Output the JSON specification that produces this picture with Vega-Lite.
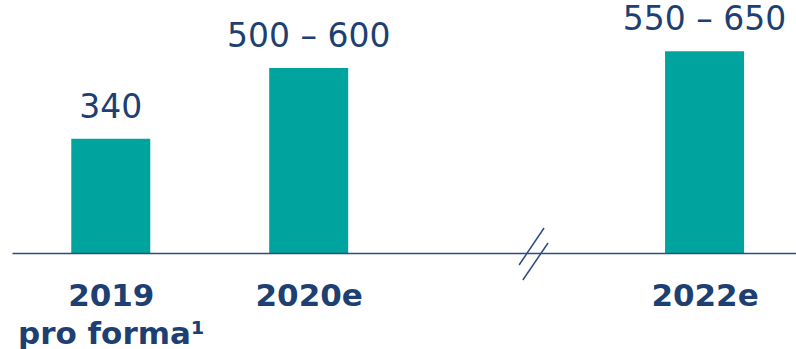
{
  "$schema": "https://vega.github.io/schema/vega-lite/v6.json",
  "width": 784,
  "height": 253,
  "autosize": {"type": "none"},
  "padding": {"left": 12, "top": 0, "right": 0, "bottom": 96},
  "background": "white",
  "config": {"view": {"stroke": null}},
  "datasets": {
    "bars": [
      {"pos": 1, "value": 340, "label": "340"},
      {"pos": 2, "value": 550, "label": "500 – 600"},
      {"pos": 4, "value": 600, "label": "550 – 650"}
    ],
    "breaks": [
      {"x": 3.063, "y": -35.7, "x2": 3.189, "y2": 74.3},
      {"x": 3.082, "y": -80.3, "x2": 3.209, "y2": 29.7}
    ]
  },
  "layer": [
    {
      "data": {"name": "bars"},
      "mark": {"type": "bar", "size": 79, "color": "#00A39E"},
      "encoding": {
        "x": {
          "field": "pos", "type": "quantitative",
          "scale": {"domain": [0.501, 4.462], "nice": false, "zero": false, "padding": 0},
          "axis": {
            "values": [1, 2, 4],
            "title": null,
            "grid": false,
            "ticks": false,
            "domainColor": "#2B4C7E",
            "domainWidth": 1.6,
            "labelExpr": "datum.value == 1 ? ['2019', 'pro forma¹'] : datum.value == 2 ? '2020e' : '2022e'",
            "labelFont": "DejaVu Sans",
            "labelFontWeight": "bold",
            "labelFontSize": 31,
            "labelColor": "#1D3F72",
            "labelBaseline": "alphabetic",
            "labelPadding": 52,
            "labelLineHeight": 38,
            "labelLimit": 0,
            "labelOverlap": false,
            "labelBound": false,
            "labelFlush": false,
            "zindex": 1
          }
        },
        "y": {
          "field": "value", "type": "quantitative",
          "scale": {"domain": [0, 752.3], "nice": false},
          "axis": null
        }
      }
    },
    {
      "data": {"name": "bars"},
      "mark": {"type": "text", "font": "DejaVu Sans", "fontSize": 33, "color": "#1D3F72", "baseline": "alphabetic", "align": "center", "dy": -21},
      "encoding": {
        "x": {"field": "pos", "type": "quantitative"},
        "y": {"field": "value", "type": "quantitative"},
        "text": {"field": "label"}
      }
    },
    {
      "data": {"name": "breaks"},
      "mark": {"type": "rule", "color": "#2B4C7E", "strokeWidth": 1.5},
      "encoding": {
        "x": {"field": "x", "type": "quantitative"},
        "x2": {"field": "x2"},
        "y": {"field": "y", "type": "quantitative"},
        "y2": {"field": "y2"}
      }
    }
  ]
}
